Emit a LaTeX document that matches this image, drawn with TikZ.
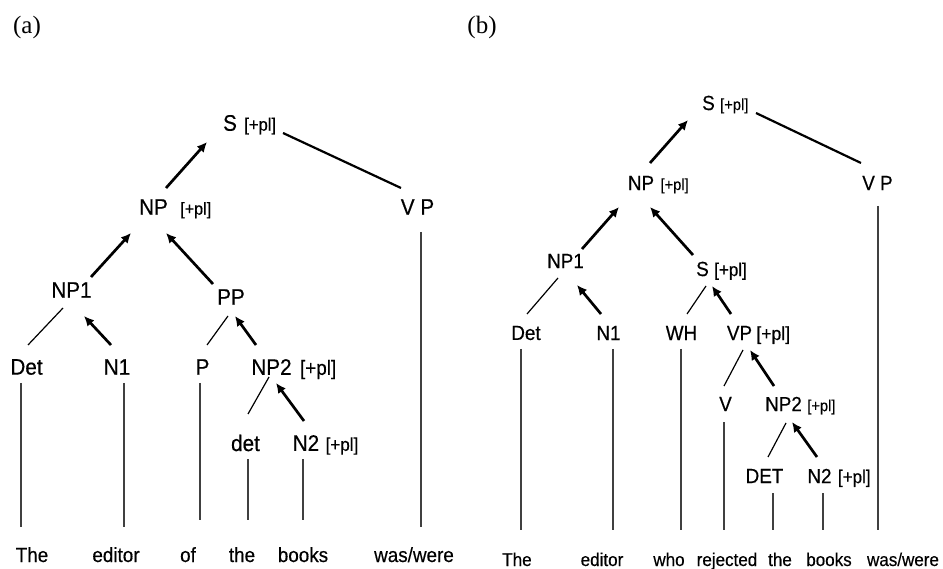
\documentclass[tikz,border=0pt]{standalone}
\usepackage{fontspec}
\setmainfont{Liberation Sans}[FakeStretch=0.92,FakeBold=0.4]
\newfontfamily\labelserif{Liberation Serif}
\usetikzlibrary{arrows.meta}
\begin{document}
\begin{tikzpicture}[x=1pt,y=-1pt,
  cat/.style={inner sep=0pt,font=\fontsize{22.5}{26}\selectfont},
  catb/.style={inner sep=0pt,font=\fontsize{20.5}{24}\selectfont},
  feat/.style={inner sep=0pt,anchor=base west,font=\fontsize{#1}{20}\selectfont},
  word/.style={inner sep=0pt,anchor=base,font=\fontsize{20.5}{24}\selectfont},
  wordb/.style={inner sep=0pt,anchor=base,font=\fontsize{18.5}{22}\selectfont},
  panel/.style={inner sep=0pt,font=\labelserif\fontsize{25}{29}\selectfont},
  arr/.style={line width=2.7pt,-{Latex[length=10pt,width=9.5pt]}},
  branch/.style={line width=1.2pt},
  link/.style={line width=2.2pt},
  leaf/.style={line width=1.1pt,draw=black!75}]
\useasboundingbox (0,0) rectangle (943,569);

% panel captions
\node[panel] (capA) at (27,27) {(a)};
\node[panel] (capB) at (482,27) {(b)};

% ---------------- tree (a) ----------------
\node[cat] (sA)    at (230,123)   {S};
\node[feat=18] (sAf) at ([xshift=7pt]sA.base east) {[+pl]};
\node[cat] (npA)   at (153.5,207) {NP};
\node[feat=17.5] (npAf) at ([xshift=12pt]npA.base east) {[+pl]};
\node[cat] (vpA)   at (417.5,207) {V P};
\node[cat] (np1A)  at (71.5,290)  {NP1};
\node[cat] (ppA)   at (231,297)   {PP};
\node[cat] (detA)  at (26.5,367)  {Det};
\node[cat] (n1A)   at (117,367)   {N1};
\node[cat] (pA)    at (202.5,367) {P};
\node[cat] (np2A)  at (271.5,367) {NP2};
\node[feat=20.5] (np2Af) at ([xshift=8pt]np2A.base east) {[+pl]};
\node[cat] (detlA) at (245.5,443) {det};
\node[cat] (n2A)   at (306,443)   {N2};
\node[feat=18.5] (n2Af) at ([xshift=6pt]n2A.base east) {[+pl]};

\node[word] (wTheA)  at (32,562)  {The};
\node[word] (wEdA)   at (116,562) {editor};
\node[word] (wOfA)   at (188,562) {of};
\node[word] (wTheLA) at (242,562) {the};
\node[word] (wBkA)   at (303,562) {books};
\node[word] (wWasA)  at (414,562) {was/were};

\draw[arr]    ([shift={(12.5,-19)}]npA.center) -- ([shift={(-23,19)}]sA.center);
\draw[link]   ([shift={(53,10)}]sA.center)     -- ([shift={(-16.5,-19)}]vpA.center);
\draw[arr]    ([shift={(19.5,-13)}]np1A.center) -- ([shift={(-22.5,26)}]npA.center);
\draw[arr]    ([shift={(-18,-13)}]ppA.center)  -- ([shift={(12.5,26)}]npA.center);
\draw[branch] ([shift={(-8.5,18)}]np1A.center) -- ([shift={(1.5,-22)}]detA.center);
\draw[arr]    ([shift={(-6,-22)}]n1A.center)   -- ([shift={(12.5,26)}]np1A.center);
\draw[branch] ([shift={(-3,19)}]ppA.center)    -- ([shift={(4.5,-22)}]pA.center);
\draw[arr]    ([shift={(-15.5,-22)}]np2A.center) -- ([shift={(4,19)}]ppA.center);
\draw[branch] ([shift={(-2.5,10)}]np2A.center) -- ([shift={(2.5,-29)}]detlA.center);
\draw[arr]    ([shift={(-2,-22)}]n2A.center)   -- ([shift={(4.5,16)}]np2A.center);

\draw[leaf] ([shift={(-5.5,16)}]detA.center) -- ([shift={(-11,-35)}]wTheA.base);
\draw[leaf] ([shift={(7,16)}]n1A.center)     -- ([shift={(8,-35)}]wEdA.base);
\draw[leaf] ([shift={(-2.5,16)}]pA.center)   -- ([shift={(12,-42)}]wOfA.base);
\draw[leaf] ([shift={(2.5,16)}]detlA.center) -- ([shift={(6,-42)}]wTheLA.base);
\draw[leaf] ([shift={(-3,16)}]n2A.center)    -- ([shift={(0,-42)}]wBkA.base);
\draw[leaf] ([shift={(3.5,25)}]vpA.center)   -- ([shift={(7,-35)}]wWasA.base);

% ---------------- tree (b) ----------------
\node[catb] (sB)    at (708.5,103) {S};
\node[feat=16] (sBf) at ([xshift=5pt]sB.base east) {[+pl]};
\node[catb] (npB)   at (641,183)   {NP};
\node[feat=16] (npBf) at ([xshift=6pt]npB.base east) {[+pl]};
\node[catb] (vpB)   at (877.5,183) {V P};
\node[catb] (np1B)  at (565.5,261) {NP1};
\node[catb] (sBB)   at (702.5,269) {S};
\node[feat=18.5] (sBBf) at ([xshift=5pt]sBB.base east) {[+pl]};
\node[catb] (detB)  at (526,333)   {Det};
\node[catb] (n1B)   at (608.5,333) {N1};
\node[catb] (whB)   at (681.5,333) {WH};
\node[catb] (vpBB)  at (739.5,333) {VP};
\node[feat=19] (vpBBf) at ([xshift=4pt]vpBB.base east) {[+pl]};
\node[catb] (vB)    at (725.5,404) {V};
\node[catb] (np2B)  at (783.5,404) {NP2};
\node[feat=16] (np2Bf) at ([xshift=5pt]np2B.base east) {[+pl]};
\node[catb] (detuB) at (764.5,476) {DET};
\node[catb] (n2B)   at (819.5,476) {N2};
\node[feat=18.5] (n2Bf) at ([xshift=6pt]n2B.base east) {[+pl]};

\node[wordb] (wTheB)  at (517,566) {The};
\node[wordb] (wEdB)   at (602,566) {editor};
\node[wordb] (wWhoB)  at (669,566) {who};
\node[wordb] (wRejB)  at (727,566) {rejected};
\node[wordb] (wTheLB) at (780,566) {the};
\node[wordb] (wBkB)   at (829,566) {books};
\node[wordb] (wWasB)  at (903,566) {was/were};

\draw[arr]    ([shift={(9,-20)}]npB.center)    -- ([shift={(-20.5,17)}]sB.center);
\draw[link]   ([shift={(47.5,10)}]sB.center)   -- ([shift={(-16.5,-20)}]vpB.center);
\draw[arr]    ([shift={(16.5,-12)}]np1B.center) -- ([shift={(-22,24)}]npB.center);
\draw[arr]    ([shift={(-9.5,-14)}]sBB.center) -- ([shift={(9,24)}]npB.center);
\draw[branch] ([shift={(-7.5,17)}]np1B.center) -- ([shift={(1,-19)}]detB.center);
\draw[arr]    ([shift={(-7.5,-19)}]n1B.center) -- ([shift={(11.5,24)}]np1B.center);
\draw[branch] ([shift={(3.5,17)}]sBB.center)   -- ([shift={(5.5,-19)}]whB.center);
\draw[arr]    ([shift={(-8.5,-19)}]vpBB.center) -- ([shift={(9.5,17)}]sBB.center);
\draw[branch] ([shift={(3.5,17)}]vpBB.center)  -- ([shift={(-1.5,-18)}]vB.center);
\draw[arr]    ([shift={(-9.5,-18)}]np2B.center) -- ([shift={(10.5,17)}]vpBB.center);
\draw[branch] ([shift={(2.5,19)}]np2B.center)  -- ([shift={(3.5,-19)}]detuB.center);
\draw[arr]    ([shift={(-2.5,-19)}]n2B.center) -- ([shift={(8.5,18)}]np2B.center);

\draw[leaf] ([shift={(-5,16)}]detB.center)   -- ([shift={(4,-36)}]wTheB.base);
\draw[leaf] ([shift={(4.5,16)}]n1B.center)   -- ([shift={(11,-36)}]wEdB.base);
\draw[leaf] ([shift={(-0.5,16)}]whB.center)  -- ([shift={(12,-36)}]wWhoB.base);
\draw[leaf] ([shift={(-1.5,18)}]vB.center)   -- ([shift={(-3,-36)}]wRejB.base);
\draw[leaf] ([shift={(8.5,17)}]detuB.center) -- ([shift={(-7,-36)}]wTheLB.base);
\draw[leaf] ([shift={(3.5,17)}]n2B.center)   -- ([shift={(-6,-36)}]wBkB.base);
\draw[leaf] ([shift={(0.5,23)}]vpB.center)   -- ([shift={(-25,-36)}]wWasB.base);
\end{tikzpicture}
\end{document}
